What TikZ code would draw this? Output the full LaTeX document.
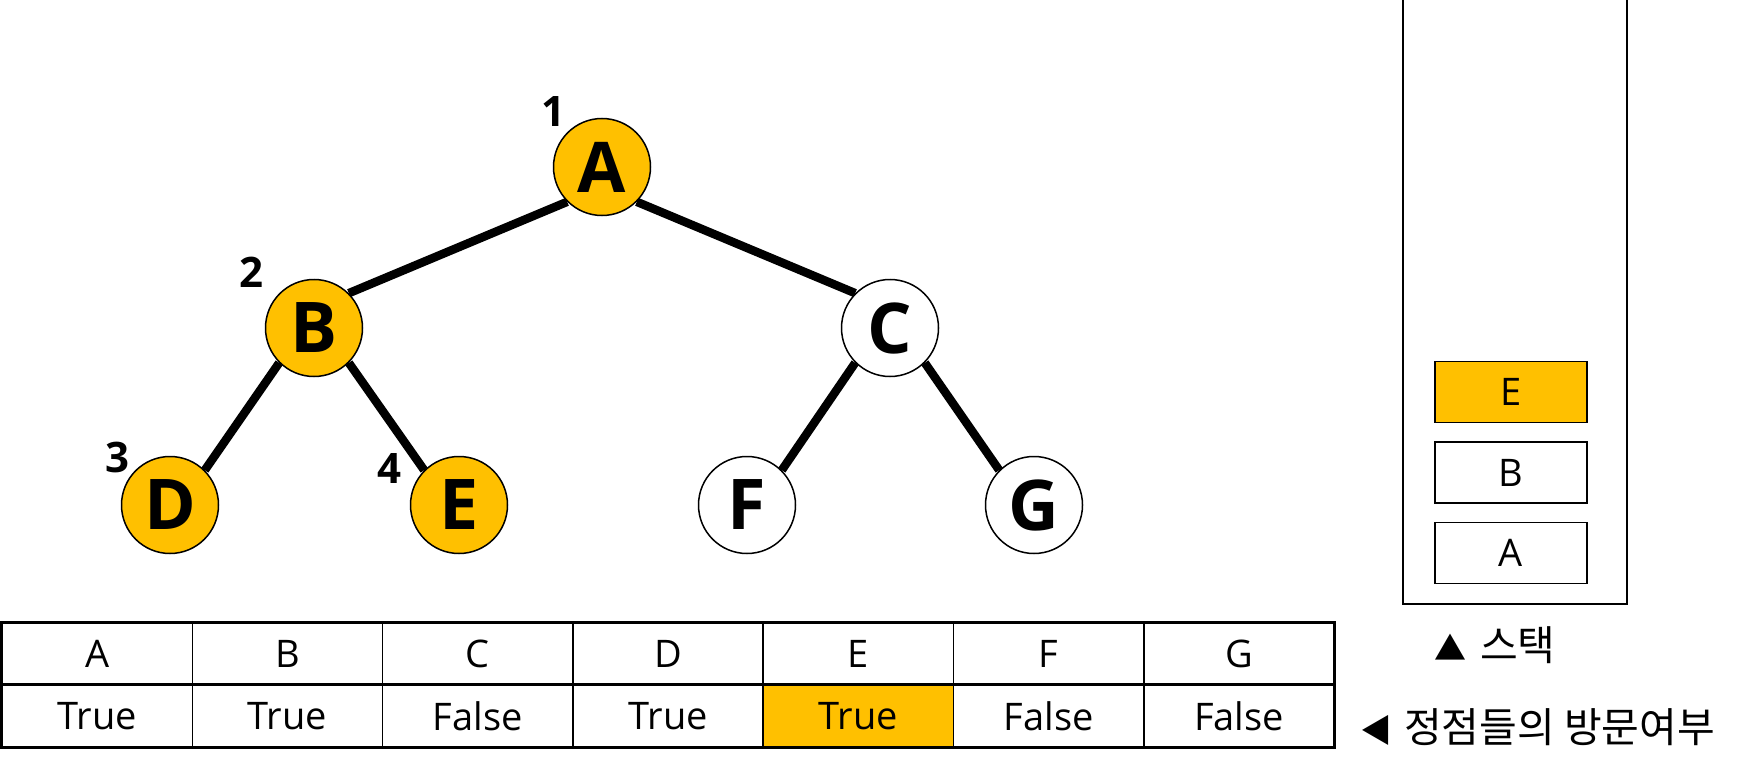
\documentclass[tikz,border=0pt]{standalone}
\usepackage{fontspec}
\setmainfont{Open Sans}
\newfontfamily\kr{Noto Sans CJK KR}
\usepackage{xcolor}
\usepackage{tikz}
\usetikzlibrary{positioning, shapes}
\definecolor{visited}{HTML}{FFC000}

\begin{document}
\begin{tikzpicture}[x=1pt, y=-1pt,
    vertex/.style={circle, draw, line width=1.5pt, minimum size=97pt, inner sep=0pt,
        font=\fontsize{70}{74}\selectfont\bfseries},
    order/.style={font=\fontsize{42}{46}\selectfont\bfseries, inner sep=0pt},
    edge/.style={line width=8.5pt},
    cell/.style={rectangle, draw, line width=1.5pt, minimum width=190.3pt, minimum height=61pt,
        inner sep=0pt, font=\fontsize{38}{42}\selectfont},
    stackbox/.style={rectangle, draw, line width=1.5pt, minimum width=152pt, minimum height=61pt,
        inner sep=0pt, font=\fontsize{38}{42}\selectfont}]

\useasboundingbox (0,0) rectangle (1742,770);

% --- Tree ---
\node[vertex, fill=visited] (A) at (602,167) {A};
\node[vertex, fill=visited] (B) at (314,328) {B};
\node[vertex, fill=white]   (C) at (890,328) {C};
\node[vertex, fill=visited] (D) at (170,505) {D};
\node[vertex, fill=visited] (E) at (459,505) {E};
\node[vertex, fill=white]   (F) at (747,505) {F};
\node[vertex, fill=white]   (G) at (1034,505) {G};

\draw[edge] (A.south west) -- (B.north east);
\draw[edge] (A.south east) -- (C.north west);
\draw[edge] (B.south west) -- (D.north east);
\draw[edge] (B.south east) -- (E.north west);
\draw[edge] (C.south west) -- (F.north east);
\draw[edge] (C.south east) -- (G.north west);

% --- Visit order ---
\node[order] (n1) at (553,112) {1};
\node[order] (n2) at (251,272) {2};
\node[order] (n3) at (117,457) {3};
\node[order] (n4) at (389,469) {4};

% --- Visited table ---
\foreach \name [count=\i from 0] in {A, B, C, D, E, F, G} {
    \node[cell] (h-\name) at ({2+190.3*(\i+0.5)},653.5) {\name};
}
\node[cell, below=0pt of h-A] (v-A) {True};
\node[cell, below=0pt of h-B] (v-B) {True};
\node[cell, below=0pt of h-C] (v-C) {False};
\node[cell, below=0pt of h-D] (v-D) {True};
\node[cell, below=0pt of h-E, fill=visited] (v-E) {True};
\node[cell, below=0pt of h-F] (v-F) {False};
\node[cell, below=0pt of h-G] (v-G) {False};
\draw[line width=2.5pt] (h-A.north west) rectangle (v-G.south east);
\draw[line width=2.5pt] (h-A.south west) -- (h-G.south east);

\node[inner sep=0pt, anchor=west] (tablelabel) at (1360,727)
    {\fontsize{32}{36}\selectfont\kr ◀\hspace{12pt}\fontsize{41}{44}\selectfont 정점들의 방문여부};

% --- Stack ---
\draw[line width=1.5pt] (1403,0) -- (1403,604) -- (1627,604) -- (1627,0);
\node[stackbox] (s-A) at (1511,553) {A};
\node[stackbox, above=18pt of s-A] (s-B) {B};
\node[stackbox, above=18pt of s-B, fill=visited] (s-E) {E};

\node[inner sep=0pt, anchor=west] (stacklabel) at (1434,645)
    {\fontsize{32}{36}\selectfont\kr ▲\hspace{14pt}\fontsize{41}{44}\selectfont 스택};

\end{tikzpicture}
\end{document}
